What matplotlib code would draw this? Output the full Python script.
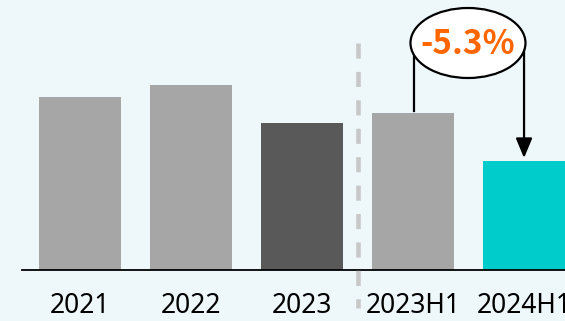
import matplotlib
matplotlib.use("Agg")
import matplotlib.pyplot as plt
from matplotlib.patches import Ellipse

periods = ["2021", "2022", "2023", "2023H1", "2024H1"]
values = [173, 185, 147, 157, 109]
change_label = "-5.3%"

BG = "#EEF8FA"
bar_colors = ["#A6A6A6", "#A6A6A6", "#595959", "#A6A6A6", "#00CCCC"]

plt.rcParams["font.family"] = ["Noto Sans", "DejaVu Sans"]

fig = plt.figure(figsize=(5.65, 3.21), dpi=100, facecolor=BG)
# axes starts at the baseline; one y unit is one pixel high
ax = fig.add_axes([22 / 565, 51 / 321, 543 / 565, 270 / 321])
ax.set_facecolor(BG)

x = list(range(len(periods)))
ax.bar(x, values, width=0.74, color=bar_colors, zorder=2)

ax.set_xlim(-0.5225, 4.369)
ax.set_ylim(0, 270)

for side in ["top", "right", "left"]:
    ax.spines[side].set_visible(False)
ax.spines["bottom"].set_linewidth(1.3)
ax.spines["bottom"].set_color("black")
ax.set_yticks([])
ax.set_xticks(x)
ax.set_xticklabels(periods, fontsize=19)
ax.tick_params(axis="x", length=0, pad=16)

# divider between full years and half years
ax.plot([2.505, 2.505], [227, -38], color="#C8C8C8", linewidth=3.3,
        dashes=(3.3, 2.9), clip_on=False, zorder=3)

# change bracket from 2023H1 down to 2024H1
ex, ey = 3.5, 227
ew, eh = 1.036, 70
left_x, right_x = 3.0, 4.0
ax.plot([left_x + 0.005, left_x + 0.005], [ey, values[3] + 2], color="black", linewidth=1.6, zorder=4)
ax.annotate("", xy=(right_x, values[4] + 3), xytext=(right_x, ey),
            arrowprops=dict(arrowstyle="-|>,head_length=1.2,head_width=0.5",
                            color="black", lw=1.6, shrinkA=0, shrinkB=0),
            zorder=4)
ax.add_patch(Ellipse((ex - 0.005, ey), ew, eh, facecolor="white",
                     edgecolor="black", linewidth=1.6, zorder=5, clip_on=False))
ax.text(ex - 0.01, ey - 1, change_label, ha="center", va="center", fontsize=24,
        fontweight="bold", color="#FF6600", zorder=6,
        family=["Noto Sans CJK SC", "DejaVu Sans"])

fig.savefig("out.png", dpi=100, facecolor=BG)
